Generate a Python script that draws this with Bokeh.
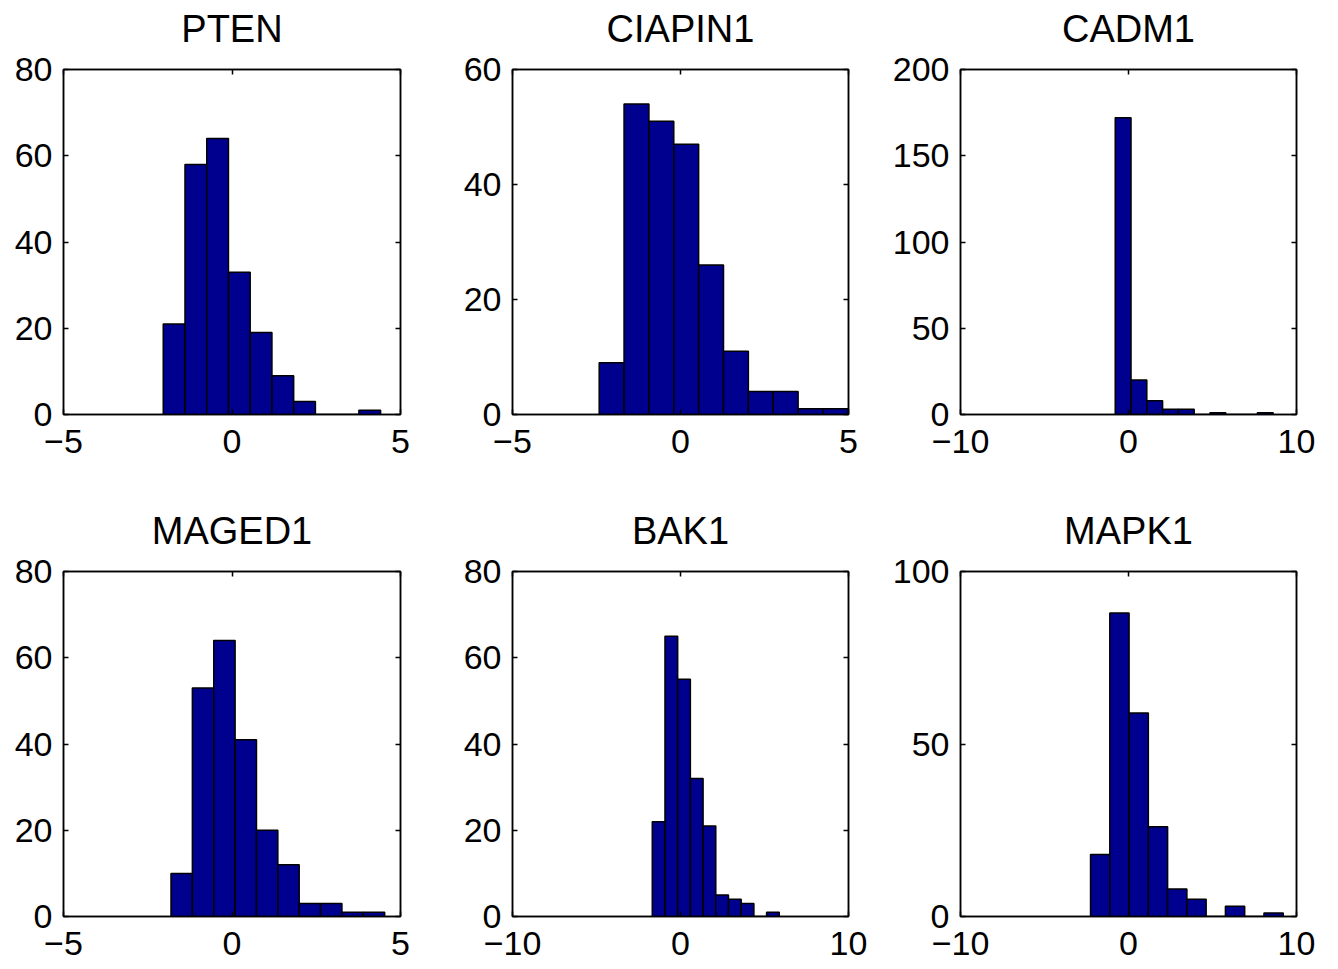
from bokeh.plotting import figure
from bokeh.models import Range1d, LinearAxis, FixedTicker, CustomLabelingPolicy
from bokeh.layouts import column, row
from bokeh.embed import file_html
from bokeh.resources import INLINE
import numpy as np

# ---- data ----
genes = ["PTEN", "CIAPIN1", "CADM1", "MAGED1", "BAK1", "MAPK1"]

pten_counts    = [21, 58, 64, 33, 19, 9, 3, 0, 0, 1]
ciapin1_counts = [9, 54, 51, 47, 26, 11, 4, 4, 1, 1]
cadm1_counts   = [172, 20, 8, 3, 3, 0, 1, 0, 0, 1]
maged1_counts  = [10, 53, 64, 41, 20, 12, 3, 3, 1, 1]
bak1_counts    = [22, 65, 55, 32, 21, 5, 4, 3, 0, 1]
mapk1_counts   = [18, 88, 59, 26, 8, 5, 0, 3, 0, 1]

# data range covered by the 10 histogram bins (min, max)
pten_range    = (-2.04, 4.41)
ciapin1_range = (-2.42, 4.98)
cadm1_range   = (-0.79, 8.61)
maged1_range  = (-1.81, 4.53)
bak1_range    = (-1.68, 5.88)
mapk1_range   = (-2.26, 9.21)

x_limits = [(-5, 5), (-5, 5), (-10, 10), (-5, 5), (-10, 10), (-10, 10)]
y_limits = [(0, 80), (0, 60), (0, 200), (0, 80), (0, 80), (0, 100)]
x_ticks = [[-5, 0, 5], [-5, 0, 5], [-10, 0, 10], [-5, 0, 5], [-10, 0, 10], [-10, 0, 10]]
y_ticks = [[0, 20, 40, 60, 80], [0, 20, 40, 60], [0, 50, 100, 150, 200],
           [0, 20, 40, 60, 80], [0, 20, 40, 60, 80], [0, 50, 100]]

all_counts = [pten_counts, ciapin1_counts, cadm1_counts, maged1_counts, bak1_counts, mapk1_counts]
all_ranges = [pten_range, ciapin1_range, cadm1_range, maged1_range, bak1_range, mapk1_range]

BAR = "#00008F"
FONT = "Liberation Sans"
TICK_FS = "34px"
TITLE_FS = "38px"

# layout borders per column / row
col_left = [63, 55, 75]
col_right = [57, 37, 30]
col_frame = [337, 336, 336]
row_top = [69, 67]
row_bottom = [90, 45]

NO_LABELS = CustomLabelingPolicy(code="""
for (const i of indices) { indices.unset(i) }
return indices
""")


def label_text(v):
    return ("\u2212" + str(abs(v))) if v < 0 else str(v)


def make(i):
    c = i % 3
    r = i // 3
    p = figure(frame_width=col_frame[c], frame_height=345,
               x_range=Range1d(*x_limits[i]), y_range=Range1d(*y_limits[i]),
               output_backend="svg", toolbar_location=None,
               min_border_left=col_left[c], min_border_right=col_right[c],
               min_border_top=row_top[r], min_border_bottom=row_bottom[r])
    p.grid.visible = False
    p.background_fill_color = "white"
    p.border_fill_color = "white"
    p.outline_line_color = "black"
    p.outline_line_width = 1.5

    lo, hi = all_ranges[i]
    edges = np.linspace(lo, hi, len(all_counts[i]) + 1)
    p.quad(left=edges[:-1], right=edges[1:], bottom=0, top=all_counts[i],
           fill_color=BAR, line_color="black", line_width=1.5)

    for ax, ticks in ((p.xaxis[0], x_ticks[i]), (p.yaxis[0], y_ticks[i])):
        ax.ticker = FixedTicker(ticks=ticks)
        ax.major_label_overrides = {t: label_text(t) for t in ticks}
        ax.major_tick_in = 5
        ax.major_tick_out = 0
        ax.minor_tick_line_color = None
        ax.axis_line_width = 1.5
        ax.major_tick_line_width = 1.5
        ax.axis_line_color = "black"
        ax.major_tick_line_color = "black"
        ax.major_label_text_font = FONT
        ax.major_label_text_font_size = TICK_FS
        ax.major_label_text_color = "black"
    p.xaxis[0].major_label_standoff = 15
    p.yaxis[0].major_label_standoff = 11

    for side, ticks in (("right", y_ticks[i]), ("above", x_ticks[i])):
        ax = LinearAxis(ticker=FixedTicker(ticks=ticks))
        ax.major_tick_in = 5
        ax.major_tick_out = 0
        ax.minor_tick_line_color = None
        ax.axis_line_width = 1.5
        ax.major_tick_line_width = 1.5
        ax.major_label_policy = NO_LABELS
        ax.major_label_text_font_size = "0px"
        ax.major_label_standoff = 0
        if side == "above":
            # panel title sits on the top axis
            ax.axis_label = genes[i]
            ax.axis_label_text_font = FONT
            ax.axis_label_text_font_size = TITLE_FS
            ax.axis_label_text_font_style = "normal"
            ax.axis_label_text_color = "black"
            ax.axis_label_standoff = 20
        p.add_layout(ax, side)
    return p


plots = [make(i) for i in range(6)]
layout = column(row(*plots[:3]), row(*plots[3:]))

open("out.html", "w").write(file_html(layout, INLINE))
